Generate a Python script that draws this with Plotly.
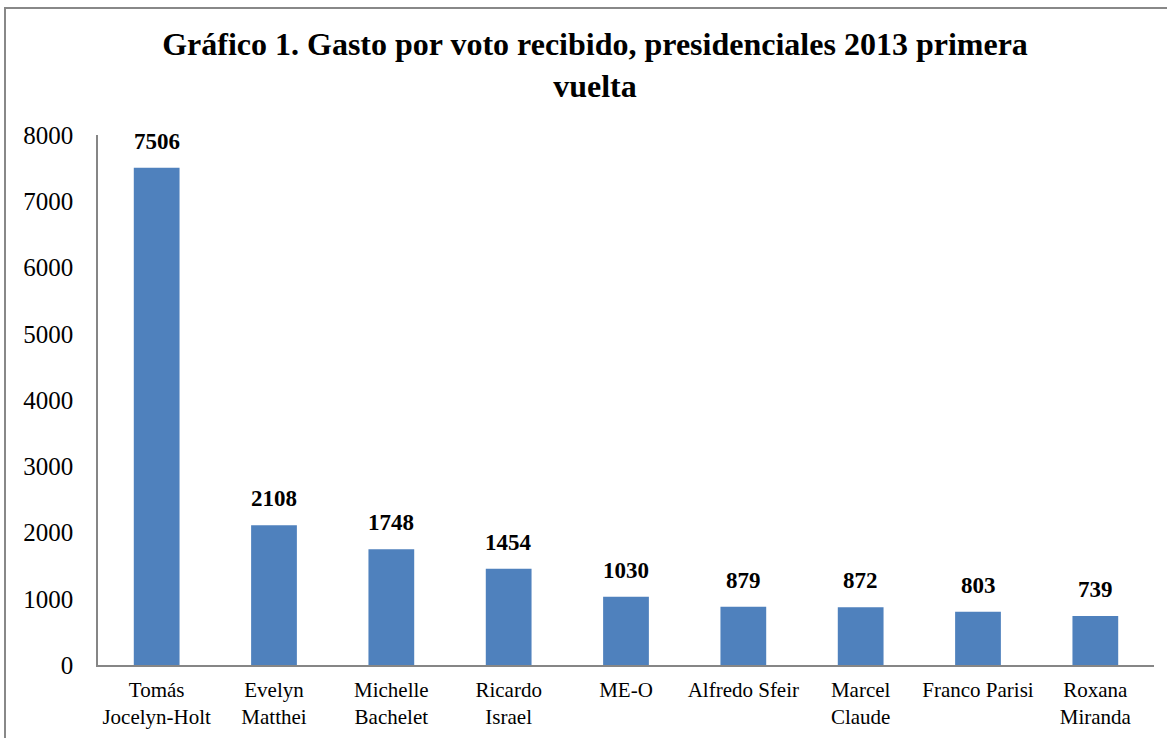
import plotly.graph_objects as go

candidates = ["Tomás<br>Jocelyn-Holt", "Evelyn<br>Matthei", "Michelle<br>Bachelet", "Ricardo<br>Israel",
              "ME-O", "Alfredo Sfeir", "Marcel<br>Claude", "Franco Parisi", "Roxana<br>Miranda"]
gasto = [7506, 2108, 1748, 1454, 1030, 879, 872, 803, 739]
y_ticks = [0, 1000, 2000, 3000, 4000, 5000, 6000, 7000, 8000]

FONT = "Liberation Serif, Times New Roman, serif"

fig = go.Figure(go.Bar(
    x=candidates, y=gasto,
    marker=dict(color="#4F81BD", line=dict(width=0)),
    width=0.39,
    cliponaxis=False,
))

for c, v in zip(candidates, gasto):
    fig.add_annotation(x=c, y=v, text=f"<b>{v}</b>", showarrow=False,
                       xanchor="center", yanchor="bottom", yshift=12,
                       font=dict(family=FONT, size=23, color="black"))

fig.update_layout(
    width=1167, height=738,
    margin=dict(l=98, r=13, t=135, b=73),
    paper_bgcolor="white", plot_bgcolor="white",
    font=dict(family=FONT, color="black"),
    showlegend=False,
    title=dict(
        text="<b>Gráfico 1. Gasto por voto recibido, presidenciales 2013 primera<br>vuelta</b>",
        x=595/1167, xanchor="center", y=1-55/738, yanchor="middle",
        font=dict(family=FONT, size=32, color="black"),
    ),
    xaxis=dict(
        showline=True, linecolor="#868686", linewidth=1.5,
        ticks="", showgrid=False,
        tickfont=dict(family=FONT, size=21, color="black"),
        tickangle=0,
        ticklabelstandoff=5,
        automargin=False,
    ),
    yaxis=dict(
        range=[0, 8000], tickvals=y_ticks,
        showline=True, linecolor="#868686", linewidth=1.5,
        ticks="", showgrid=False, zeroline=False,
        tickfont=dict(family=FONT, size=25, color="black"),
        ticklabelstandoff=18,
        automargin=False,
    ),
    bargap=0.61,
    shapes=[dict(type="rect", xref="paper", yref="paper",
                 x0=(5-98)/1056, x1=(1175-98)/1056,
                 y0=(665-750)/530, y1=(665-8)/530,
                 line=dict(color="#888888", width=2), fillcolor="rgba(0,0,0,0)", layer="below")],
)

fig.write_html("out.html")
